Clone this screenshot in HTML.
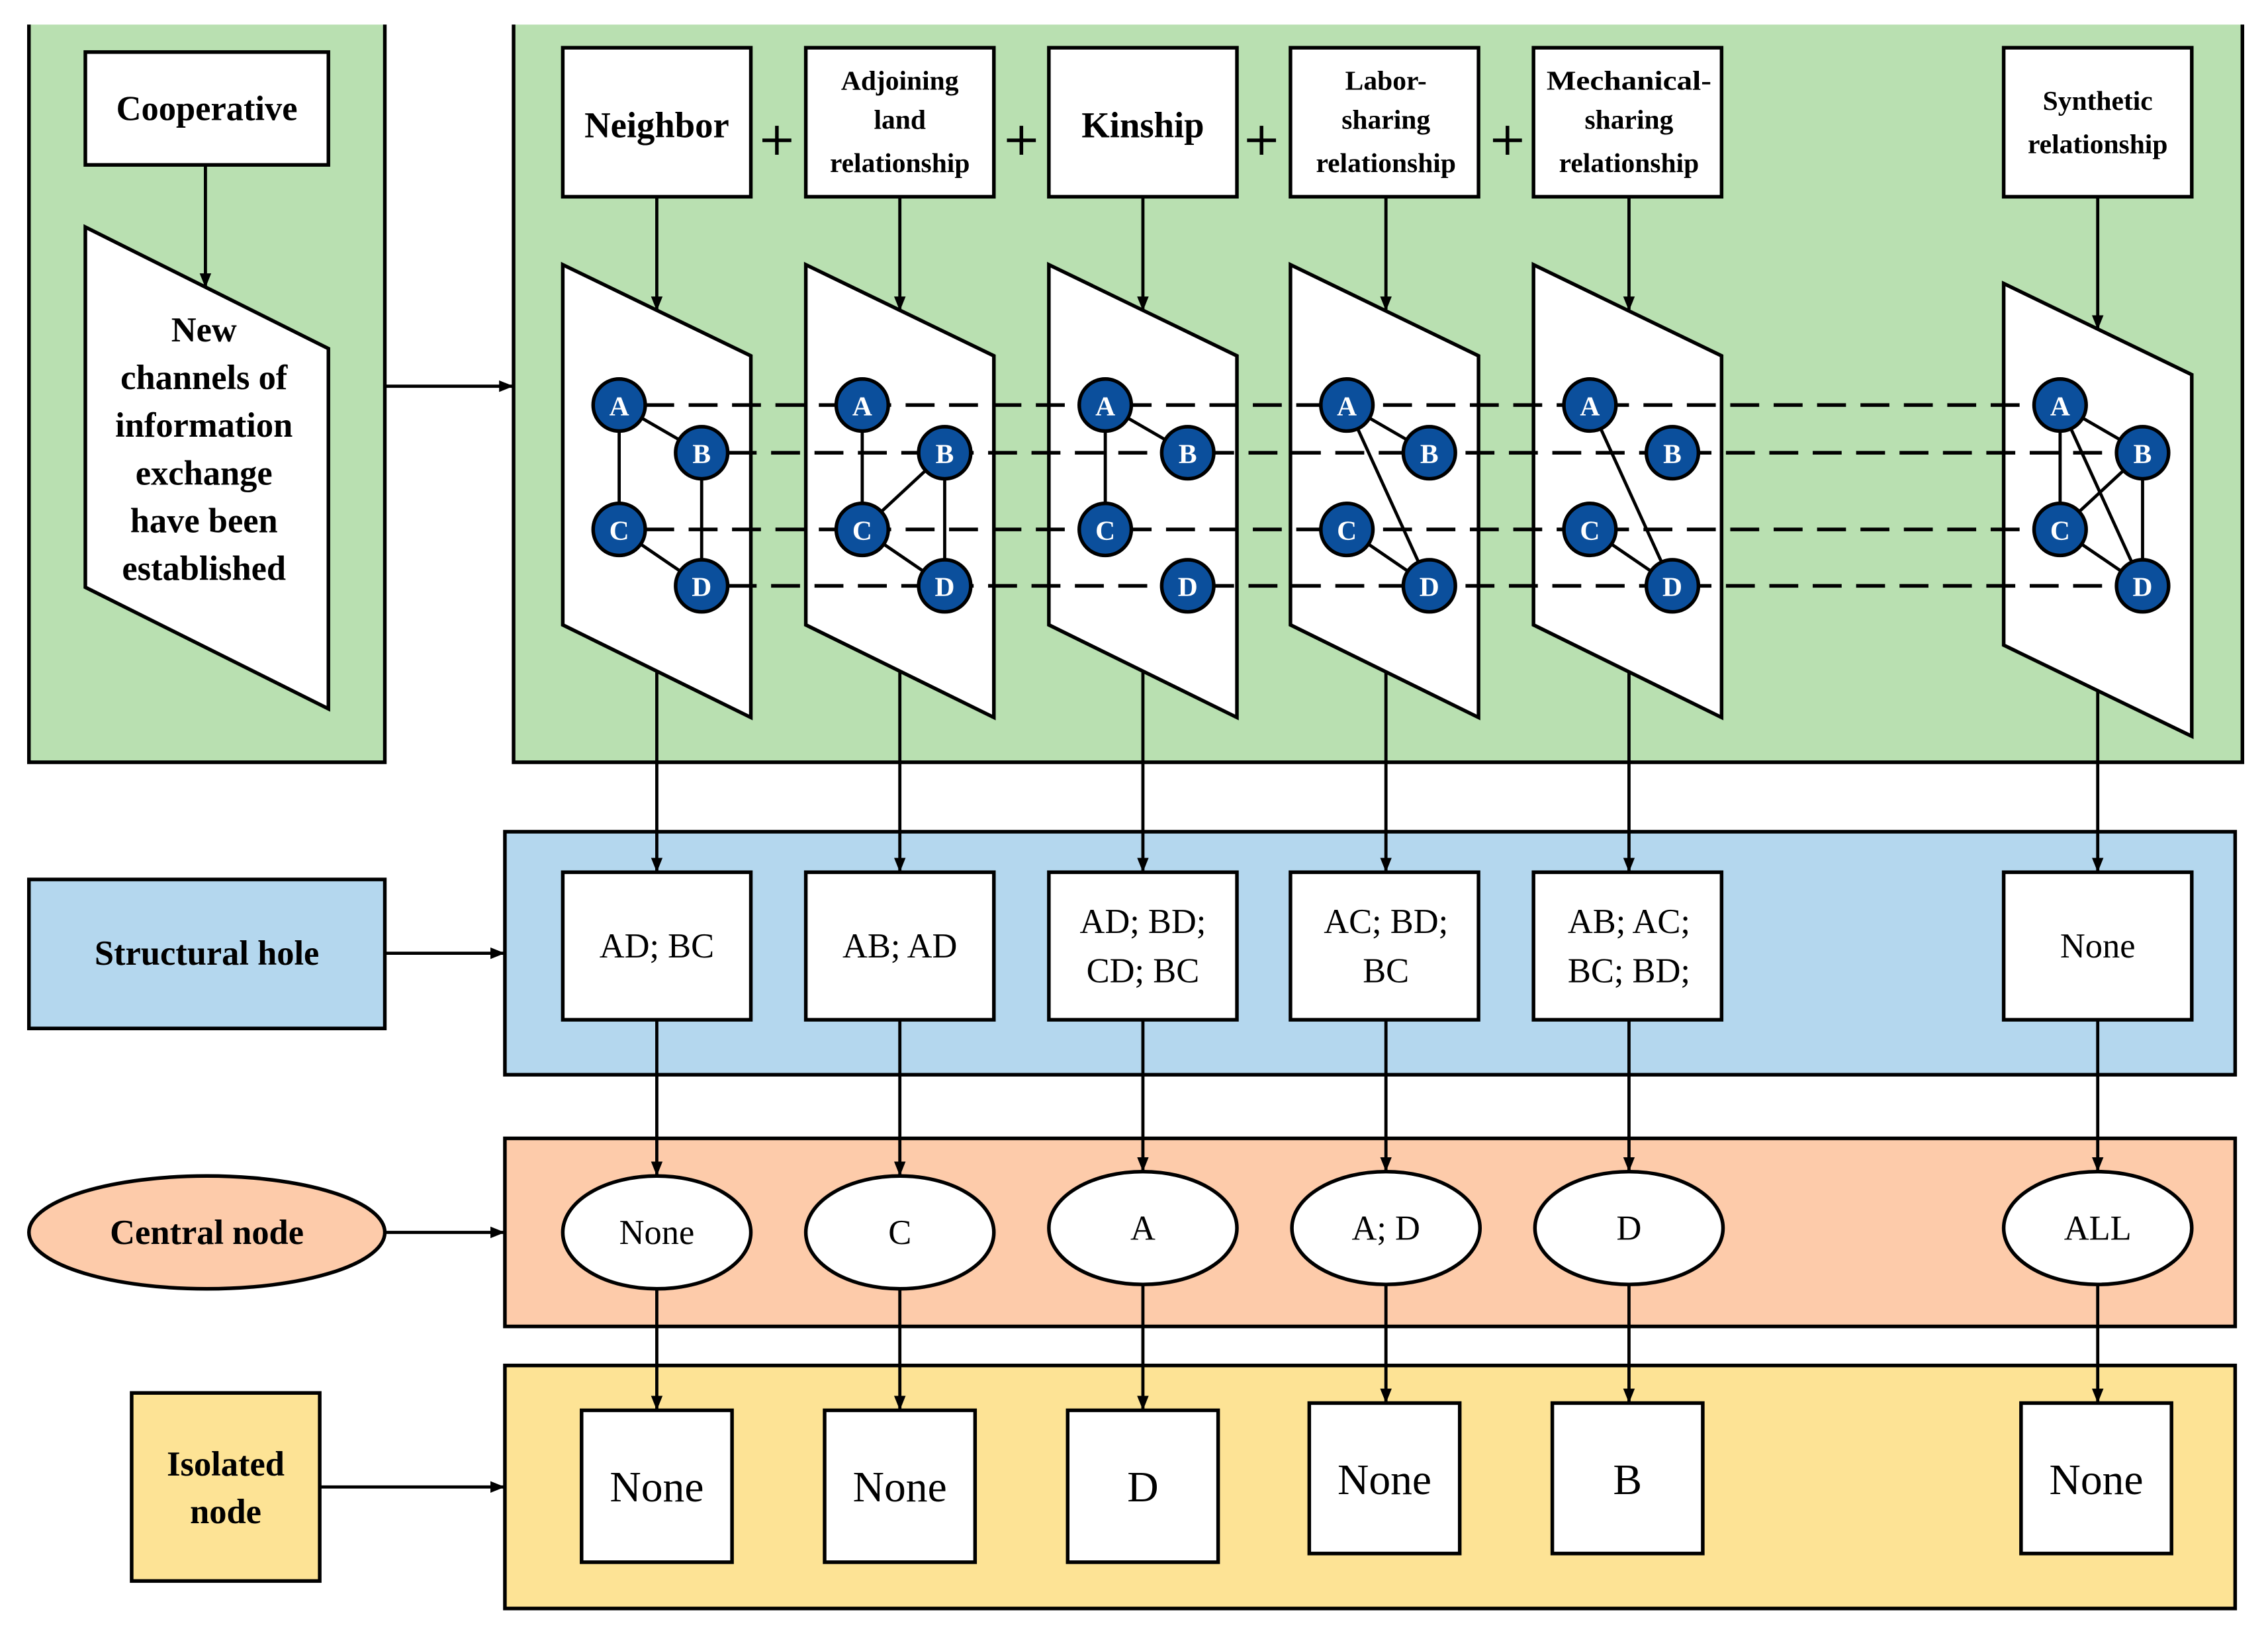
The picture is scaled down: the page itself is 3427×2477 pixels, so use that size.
<!DOCTYPE html>
<html><head><meta charset="utf-8"><style>html,body{margin:0;padding:0;background:#fff}svg{display:block}svg text{font-family:"Liberation Serif","Times New Roman","Tinos","Noto Serif","DejaVu Serif","FreeSerif",serif}</style></head>
<body>
<svg xmlns="http://www.w3.org/2000/svg" width="3427" height="2477" viewBox="0 0 1567.7 1133.1" preserveAspectRatio="none">
<defs>
<marker id="ar" markerWidth="10" markerHeight="10" refX="9" refY="5" orient="auto" markerUnits="userSpaceOnUse"><path d="M0,1 L10,5 L0,9 Z" fill="#000"/></marker>
</defs>
<g stroke="#000" stroke-width="2.5">
<rect x="20" y="17" width="246" height="510" fill="#b9e0b1" stroke="none"/>
<path d="M20,17 V527 H266 V17" fill="none"/>
<rect x="355" y="17" width="1195" height="510" fill="#b9e0b1" stroke="none"/>
<path d="M355,17 V527 H1550 V17" fill="none"/>
<rect x="349" y="575" width="1196" height="168" fill="#b4d7ee"/>
<rect x="349" y="787" width="1196" height="130" fill="#fdcbaa"/>
<rect x="349" y="944" width="1196" height="168" fill="#fde395"/>
<rect x="59" y="36" width="168" height="78" fill="#fff"/>
<polygon points="59,157 227,241 227,490 59,406" fill="#fff"/>
<rect x="20" y="608" width="246" height="103" fill="#b4d7ee"/>
<ellipse cx="143" cy="852" rx="123" ry="39" fill="#fdcbaa"/>
<rect x="91" y="963" width="130" height="130" fill="#fde395"/>
</g>
<g stroke="#000" stroke-width="2.2" fill="none" marker-end="url(#ar)">
<line x1="142" y1="114" x2="142" y2="198"/>
<line x1="266" y1="267" x2="354" y2="267"/>
<line x1="266" y1="659" x2="348" y2="659"/>
<line x1="266" y1="852" x2="348" y2="852"/>
<line x1="221" y1="1028" x2="348" y2="1028"/>
</g>
<g font-weight="bold" font-size="24" text-anchor="middle">
<text x="143" y="83">Cooperative</text>
<text x="141" y="236">New</text>
<text x="141" y="269">channels of</text>
<text x="141" y="302">information</text>
<text x="141" y="335">exchange</text>
<text x="141" y="368">have been</text>
<text x="141" y="401">established</text>
<text x="143" y="667">Structural hole</text>
<text x="143" y="860">Central node</text>
<text x="156" y="1020">Isolated</text>
<text x="156" y="1053">node</text>
</g>
<g stroke="#000" stroke-width="2.5" fill="#fff">
<rect x="389" y="33" width="130" height="103"/>
<rect x="557" y="33" width="130" height="103"/>
<rect x="725" y="33" width="130" height="103"/>
<rect x="892" y="33" width="130" height="103"/>
<rect x="1060" y="33" width="130" height="103"/>
<rect x="1385" y="33" width="130" height="103"/>
<polygon points="389,183 519,246 519,496 389,432"/>
<polygon points="557,183 687,246 687,496 557,432"/>
<polygon points="725,183 855,246 855,496 725,432"/>
<polygon points="892,183 1022,246 1022,496 892,432"/>
<polygon points="1060,183 1190,246 1190,496 1060,432"/>
<polygon points="1385,196 1515,259 1515,509 1385,446"/>
<rect x="389" y="603" width="130" height="102"/>
<rect x="557" y="603" width="130" height="102"/>
<rect x="725" y="603" width="130" height="102"/>
<rect x="892" y="603" width="130" height="102"/>
<rect x="1060" y="603" width="130" height="102"/>
<rect x="1385" y="603" width="130" height="102"/>
<ellipse cx="454" cy="852" rx="65" ry="39"/>
<ellipse cx="622" cy="852" rx="65" ry="39"/>
<ellipse cx="790" cy="849" rx="65" ry="39"/>
<ellipse cx="958" cy="849" rx="65" ry="39"/>
<ellipse cx="1126" cy="849" rx="65" ry="39"/>
<ellipse cx="1450" cy="849" rx="65" ry="39"/>
<rect x="402" y="975" width="104" height="105"/>
<rect x="570" y="975" width="104" height="105"/>
<rect x="738" y="975" width="104" height="105"/>
<rect x="905" y="970" width="104" height="104"/>
<rect x="1073" y="970" width="104" height="104"/>
<rect x="1397" y="970" width="104" height="104"/>
</g>
<g stroke="#000" stroke-width="2.2" fill="none" marker-end="url(#ar)">
<line x1="454" y1="136" x2="454" y2="214"/>
<line x1="622" y1="136" x2="622" y2="214"/>
<line x1="790" y1="136" x2="790" y2="214"/>
<line x1="958" y1="136" x2="958" y2="214"/>
<line x1="1126" y1="136" x2="1126" y2="214"/>
<line x1="1450" y1="136" x2="1450" y2="227"/>
<line x1="454" y1="464" x2="454" y2="602"/>
<line x1="622" y1="464" x2="622" y2="602"/>
<line x1="790" y1="464" x2="790" y2="602"/>
<line x1="958" y1="464" x2="958" y2="602"/>
<line x1="1126" y1="464" x2="1126" y2="602"/>
<line x1="1450" y1="477" x2="1450" y2="602"/>
<line x1="454" y1="705" x2="454" y2="812"/>
<line x1="622" y1="705" x2="622" y2="812"/>
<line x1="790" y1="705" x2="790" y2="809"/>
<line x1="958" y1="705" x2="958" y2="809"/>
<line x1="1126" y1="705" x2="1126" y2="809"/>
<line x1="1450" y1="705" x2="1450" y2="809"/>
<line x1="454" y1="891" x2="454" y2="974"/>
<line x1="622" y1="891" x2="622" y2="974"/>
<line x1="790" y1="888" x2="790" y2="974"/>
<line x1="958" y1="888" x2="958" y2="969"/>
<line x1="1126" y1="888" x2="1126" y2="969"/>
<line x1="1450" y1="888" x2="1450" y2="969"/>
</g>
<g stroke="#000" stroke-width="2.5" stroke-dasharray="20,10">
<line x1="446" y1="280" x2="1406" y2="280"/>
<line x1="503" y1="313" x2="1463" y2="313"/>
<line x1="446" y1="366" x2="1406" y2="366"/>
<line x1="503" y1="405" x2="1463" y2="405"/>
</g>
<g stroke="#000" stroke-width="2.2">
<line x1="428" y1="280" x2="485" y2="313"/><line x1="428" y1="280" x2="428" y2="366"/><line x1="428" y1="366" x2="485" y2="405"/><line x1="485" y1="313" x2="485" y2="405"/>
<line x1="596" y1="280" x2="596" y2="366"/><line x1="596" y1="366" x2="653" y2="313"/><line x1="596" y1="366" x2="653" y2="405"/><line x1="653" y1="313" x2="653" y2="405"/>
<line x1="764" y1="280" x2="821" y2="313"/><line x1="764" y1="280" x2="764" y2="366"/>
<line x1="931" y1="280" x2="988" y2="313"/><line x1="931" y1="280" x2="988" y2="405"/><line x1="931" y1="366" x2="988" y2="405"/>
<line x1="1099" y1="280" x2="1156" y2="405"/><line x1="1099" y1="366" x2="1156" y2="405"/>
<line x1="1424" y1="280" x2="1481" y2="313"/><line x1="1424" y1="280" x2="1424" y2="366"/><line x1="1424" y1="280" x2="1481" y2="405"/><line x1="1424" y1="366" x2="1481" y2="313"/><line x1="1481" y1="313" x2="1481" y2="405"/><line x1="1424" y1="366" x2="1481" y2="405"/>
</g>
<g font-weight="bold" font-size="19" text-anchor="middle">
<g stroke="#000" stroke-width="2.5" fill="#0b4f9c">
<circle cx="428" cy="280" r="18"/><circle cx="485" cy="313" r="18"/><circle cx="428" cy="366" r="18"/><circle cx="485" cy="405" r="18"/>
<circle cx="596" cy="280" r="18"/><circle cx="653" cy="313" r="18"/><circle cx="596" cy="366" r="18"/><circle cx="653" cy="405" r="18"/>
<circle cx="764" cy="280" r="18"/><circle cx="821" cy="313" r="18"/><circle cx="764" cy="366" r="18"/><circle cx="821" cy="405" r="18"/>
<circle cx="931" cy="280" r="18"/><circle cx="988" cy="313" r="18"/><circle cx="931" cy="366" r="18"/><circle cx="988" cy="405" r="18"/>
<circle cx="1099" cy="280" r="18"/><circle cx="1156" cy="313" r="18"/><circle cx="1099" cy="366" r="18"/><circle cx="1156" cy="405" r="18"/>
<circle cx="1424" cy="280" r="18"/><circle cx="1481" cy="313" r="18"/><circle cx="1424" cy="366" r="18"/><circle cx="1481" cy="405" r="18"/>
</g>
<g fill="#fff">
<text x="428" y="287">A</text><text x="485" y="320">B</text><text x="428" y="373">C</text><text x="485" y="412">D</text>
<text x="596" y="287">A</text><text x="653" y="320">B</text><text x="596" y="373">C</text><text x="653" y="412">D</text>
<text x="764" y="287">A</text><text x="821" y="320">B</text><text x="764" y="373">C</text><text x="821" y="412">D</text>
<text x="931" y="287">A</text><text x="988" y="320">B</text><text x="931" y="373">C</text><text x="988" y="412">D</text>
<text x="1099" y="287">A</text><text x="1156" y="320">B</text><text x="1099" y="373">C</text><text x="1156" y="412">D</text>
<text x="1424" y="287">A</text><text x="1481" y="320">B</text><text x="1424" y="373">C</text><text x="1481" y="412">D</text>
</g>
</g>
<g font-weight="bold" text-anchor="middle">
<text x="454" y="95" font-size="25">Neighbor</text>
<text x="622" y="62" font-size="19">Adjoining</text>
<text x="622" y="89" font-size="19">land</text>
<text x="622" y="119" font-size="19">relationship</text>
<text x="790" y="95" font-size="25">Kinship</text>
<text x="958" y="62" font-size="19">Labor-</text>
<text x="958" y="89" font-size="19">sharing</text>
<text x="958" y="119" font-size="19">relationship</text>
<text x="1126" y="62" font-size="19" textLength="114" lengthAdjust="spacingAndGlyphs">Mechanical-</text>
<text x="1126" y="89" font-size="19">sharing</text>
<text x="1126" y="119" font-size="19">relationship</text>
<text x="1450" y="76" font-size="19">Synthetic</text>
<text x="1450" y="106" font-size="19">relationship</text>
</g>
<g stroke="#000" stroke-width="2.5">
<path d="M527,97 h20 M537,87 v20"/><path d="M696,97 h20 M706,87 v20"/><path d="M862,97 h20 M872,87 v20"/><path d="M1032,97 h20 M1042,87 v20"/>
</g>
<g font-size="24" text-anchor="middle">
<text x="454" y="662">AD; BC</text>
<text x="622" y="662">AB; AD</text>
<text x="790" y="645">AD; BD;</text><text x="790" y="679">CD; BC</text>
<text x="958" y="645">AC; BD;</text><text x="958" y="679">BC</text>
<text x="1126" y="645">AB; AC;</text><text x="1126" y="679">BC; BD;</text>
<text x="1450" y="662">None</text>
<text x="454" y="860">None</text>
<text x="622" y="860">C</text>
<text x="790" y="857">A</text>
<text x="958" y="857">A; D</text>
<text x="1126" y="857">D</text>
<text x="1450" y="857">ALL</text>
</g>
<g font-size="30" text-anchor="middle">
<text x="454" y="1038">None</text>
<text x="622" y="1038">None</text>
<text x="790" y="1038">D</text>
<text x="957" y="1033">None</text>
<text x="1125" y="1033">B</text>
<text x="1449" y="1033">None</text>
</g>
</svg>
</body></html>
